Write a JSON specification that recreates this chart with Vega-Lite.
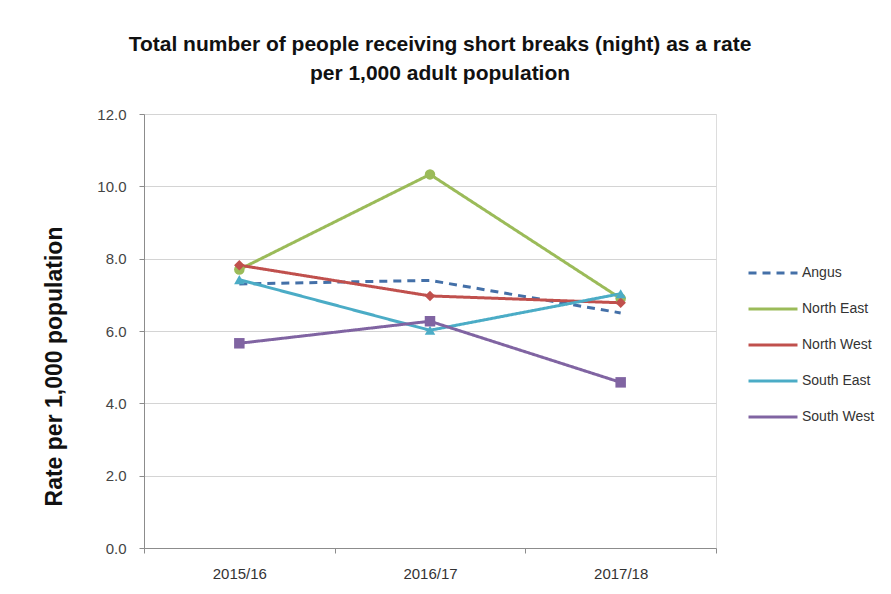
{
  "$schema": "https://vega.github.io/schema/vega-lite/v6.json",
  "width": 572,
  "height": 434,
  "autosize": {"type": "none"},
  "padding": {"left": 144, "top": 114, "right": 175, "bottom": 46},
  "background": "white",
  "title": {
    "text": ["Total number of people receiving short breaks (night) as a rate", "per 1,000 adult population"],
    "font": "Liberation Sans",
    "fontSize": 21,
    "fontWeight": "bold",
    "color": "#111111",
    "anchor": "middle",
    "frame": "group",
    "dx": 10,
    "offset": 23,
    "lineHeight": 29
  },
  "data": {
    "values": [
      {"year": "2015/16", "area": "Angus", "rate": 7.3},
      {"year": "2016/17", "area": "Angus", "rate": 7.4},
      {"year": "2017/18", "area": "Angus", "rate": 6.5},
      {"year": "2015/16", "area": "North East", "rate": 7.7},
      {"year": "2016/17", "area": "North East", "rate": 10.33},
      {"year": "2017/18", "area": "North East", "rate": 6.9},
      {"year": "2015/16", "area": "North West", "rate": 7.82},
      {"year": "2016/17", "area": "North West", "rate": 6.97},
      {"year": "2017/18", "area": "North West", "rate": 6.78},
      {"year": "2015/16", "area": "South East", "rate": 7.42},
      {"year": "2016/17", "area": "South East", "rate": 6.02},
      {"year": "2017/18", "area": "South East", "rate": 7.03},
      {"year": "2015/16", "area": "South West", "rate": 5.66},
      {"year": "2016/17", "area": "South West", "rate": 6.27},
      {"year": "2017/18", "area": "South West", "rate": 4.58}
    ]
  },
  "encoding": {
    "x": {
      "field": "year",
      "type": "ordinal",
      "bandPosition": 0.5,
      "scale": {"type": "band", "paddingInner": 0, "paddingOuter": 0},
      "axis": {
        "title": null,
        "labelAngle": 0,
        "tickBand": "extent",
        "grid": false,
        "domainColor": "#8c8c8c",
        "tickColor": "#8c8c8c",
        "tickSize": 5,
        "labelFont": "Liberation Sans Narrow, Liberation Sans",
        "labelFontSize": 15,
        "labelColor": "#333333",
        "labelPadding": 13
      }
    },
    "y": {
      "field": "rate",
      "type": "quantitative",
      "scale": {"domain": [0, 12]},
      "axis": {
        "title": "Rate per 1,000 population",
        "titleFont": "Liberation Sans",
        "titleFontSize": 23,
        "titleFontWeight": "bold",
        "titleColor": "#111111",
        "titlePadding": 30,
        "titleY": 252,
        "values": [0, 2, 4, 6, 8, 10, 12],
        "format": ".1f",
        "grid": true,
        "gridColor": "#d4d4d4",
        "domainColor": "#8c8c8c",
        "tickColor": "#8c8c8c",
        "tickSize": 5,
        "labelFont": "Liberation Sans Narrow, Liberation Sans",
        "labelFontSize": 15,
        "labelColor": "#444444",
        "labelPadding": 13
      }
    },
    "color": {
      "field": "area",
      "type": "nominal",
      "scale": {
        "domain": ["Angus", "North East", "North West", "South East", "South West"],
        "range": ["#4470a8", "#9bbb59", "#c0504d", "#4bacc6", "#8064a2"]
      }
    }
  },
  "layer": [
    {
      "mark": {"type": "line", "strokeWidth": 3},
      "encoding": {
        "color": {
          "field": "area",
          "type": "nominal",
          "legend": {
            "title": null,
            "orient": "none",
            "legendX": 603,
            "legendY": 133,
            "symbolType": "stroke",
            "symbolSize": 2400,
            "symbolStrokeWidth": 3,
            "rowPadding": 3,
            "labelFont": "Liberation Sans Narrow, Liberation Sans",
            "labelFontSize": 14,
            "labelColor": "#333333",
            "labelOffset": 3
          }
        },
        "strokeDash": {
          "field": "area",
          "type": "nominal",
          "scale": {
            "domain": ["Angus", "North East", "North West", "South East", "South West"],
            "range": [[8, 6], [1, 0], [1, 0], [1, 0], [1, 0]]
          },
          "legend": {
            "title": null,
            "orient": "none",
            "legendX": 603,
            "legendY": 133,
            "symbolType": "stroke",
            "symbolSize": 2400,
            "symbolStrokeWidth": 3,
            "rowPadding": 3,
            "labelFont": "Liberation Sans Narrow, Liberation Sans",
            "labelFontSize": 14,
            "labelColor": "#333333",
            "labelOffset": 3
          }
        }
      }
    },
    {
      "transform": [{"filter": "datum.area !== 'Angus'"}],
      "mark": {"type": "point", "filled": true, "opacity": 1, "size": 110},
      "encoding": {
        "color": {"field": "area", "type": "nominal", "legend": null},
        "shape": {
          "field": "area",
          "type": "nominal",
          "scale": {
            "domain": ["North East", "North West", "South East", "South West"],
            "range": ["circle", "diamond", "triangle-up", "square"]
          },
          "legend": null
        }
      }
    }
  ]
}
